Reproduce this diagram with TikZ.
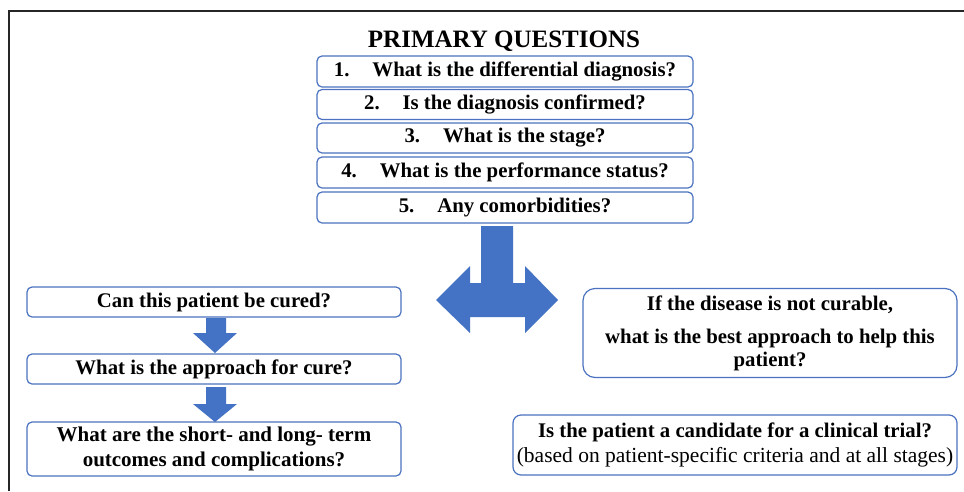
\documentclass[tikz,border=0pt]{standalone}
\usepackage{fontspec}
\setmainfont{Liberation Serif}
\definecolor{boxblue}{HTML}{4A72C0}
\definecolor{arrowblue}{HTML}{4472C4}
\begin{document}
\begin{tikzpicture}[x=1pt,y=-1pt,
  qbox/.style={draw=boxblue, line width=1.2pt, rounded corners=5pt, inner sep=0pt, align=center,
    font=\fontsize{20.8}{24}\selectfont\bfseries},
  arrowfill/.style={fill=arrowblue, draw=none}]
\useasboundingbox (0,0) rectangle (964,491);
\fill[white] (0,0) rectangle (964,491);
\draw[line width=1.6pt, black!85] (9,491) -- (9,11) -- (964,11);

\node[font=\fontsize{25}{30}\selectfont\bfseries, anchor=base] (title) at (504,47) {PRIMARY QUESTIONS};

\node[qbox, minimum width=376pt, minimum height=31pt] (q1) at (505,71.5) {1.\hspace{1.1em}What is the differential diagnosis?};
\node[qbox, minimum width=376pt, minimum height=30pt] (q2) at (505,104.5) {2.\hspace{1.1em}Is the diagnosis confirmed?};
\node[qbox, minimum width=376pt, minimum height=30pt] (q3) at (505,138) {3.\hspace{1.1em}What is the stage?};
\node[qbox, minimum width=376pt, minimum height=31pt] (q4) at (505,172.5) {4.\hspace{1.1em}What is the performance status?};
\node[qbox, minimum width=376pt, minimum height=31pt] (q5) at (505,207.5) {5.\hspace{1.1em}Any comorbidities?};

% big split arrow
\fill[arrowfill] (481,226) -- (513,226) -- (513,283) -- (525,283) -- (525,266) -- (558,300)
  -- (525,333) -- (525,317) -- (470,317) -- (470,333) -- (436,300) -- (470,266)
  -- (470,283) -- (481,283) -- cycle;

\node[qbox, minimum width=374pt, minimum height=30pt] (c1) at (214,302) {Can this patient be cured?};
\node[qbox, minimum width=374pt, minimum height=30pt] (c2) at (214,369) {What is the approach for cure?};
\node[qbox, minimum width=374pt, minimum height=54pt, font=\fontsize{21}{25}\selectfont\bfseries] (c3) at (214,449) {What are the short- and long- term\\outcomes and complications?};

% small arrows
\fill[arrowfill] (206,318) -- (226,318) -- (226,333) -- (237,333) -- (215,353) -- (193,333) -- (206,333) -- cycle;
\fill[arrowfill] (206,387) -- (226,387) -- (226,404) -- (237,404) -- (215,422) -- (193,404) -- (206,404) -- cycle;

\node[qbox, rounded corners=12pt, minimum width=374pt, minimum height=89pt, font=\fontsize{20.8}{23}\selectfont\bfseries] (r1) at (770,333) {If the disease is not curable,\\[10pt]what is the best approach to help this\\patient?};
\node[qbox, rounded corners=8pt, minimum width=444pt, minimum height=60pt, font=\fontsize{20.8}{25}\selectfont\bfseries] (r2) at (735,445) {Is the patient a candidate for a clinical trial?\\{\mdseries\fontsize{21.5}{25}\selectfont (based on patient-specific criteria and at all stages)}};
\end{tikzpicture}
\end{document}
